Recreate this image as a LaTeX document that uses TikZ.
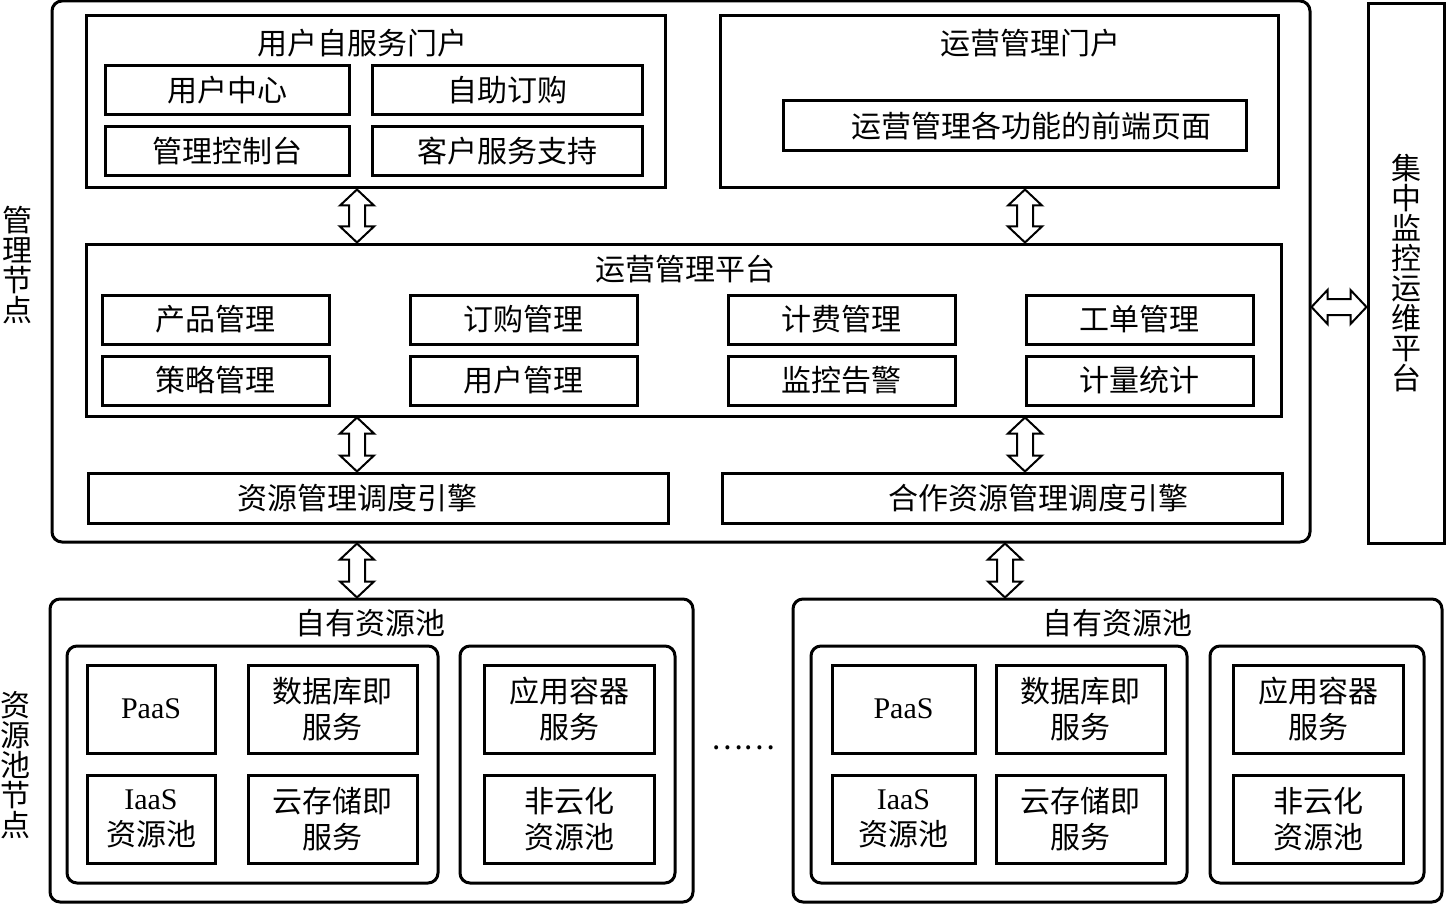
\documentclass[tikz,border=0pt]{standalone}
\usepackage{fontspec}
\setmainfont{Liberation Serif}
\newfontfamily\cjk{Noto Sans CJK SC}
\usetikzlibrary{calc}

% hollow two-headed block arrows (vertical / horizontal)
\newcommand{\vdarrow}[2]{\draw[darrow] (#1) -- ++(17,16) -- ++(-9,0) -- ($(#2)+(8,-16)$) -- ++(9,0) -- (#2) -- ++(-17,-16) -- ++(9,0) -- ($(#1)+(-8,16)$) -- ++(-9,0) -- cycle;}
\newcommand{\hdarrow}[2]{\draw[darrow] (#1) -- ++(16,-17) -- ++(0,9) -- ($(#2)+(-16,-8)$) -- ++(0,-9) -- (#2) -- ++(-16,17) -- ++(0,-9) -- ($(#1)+(16,8)$) -- ++(0,9) -- cycle;}

\begin{document}
\begin{tikzpicture}[x=0.5pt,y=-0.5pt]

\tikzset{line/.style={draw,line width=1.5pt}}
\tikzset{txt/.style={inner sep=0pt,align=center,font=\cjk\fontsize{15}{18}\selectfont}}
\tikzset{box/.style={line,txt,rectangle}}
\tikzset{group/.style={box,rounded corners=5pt}}
\tikzset{vtxt/.style={txt,font=\cjk\fontsize{15}{15}\selectfont}}
\tikzset{darrow/.style={draw,line width=1pt,fill=white,line join=miter}}
\tikzset{wh/.style 2 args={minimum width=#1,minimum height=#2}}

\useasboundingbox (0,0) rectangle (1447,904);

% management node
\node[vtxt] (mgmtlabel) at (18,265) {管\\理\\节\\点};
\node[group,wh={629pt}{270.5pt}] (mgmt) at (681,271.5) {};

\node[box,wh={289.5pt}{86pt}] (userportal) at (375.5,102) {};
\node[txt] (userportaltitle) at (362,43) {用户自服务门户};
\node[box,wh={122pt}{24.5pt}] (usercenter) at (227,90.5) {用户中心};
\node[box,wh={135pt}{24.5pt}] (selforder) at (507,90.5) {自助订购};
\node[box,wh={122pt}{24.5pt}] (console) at (227,151.5) {管理控制台};
\node[box,wh={135pt}{24.5pt}] (support) at (507,151.5) {客户服务支持};

\node[box,wh={279pt}{86pt}] (opsportal) at (999,102) {};
\node[txt] (opsportaltitle) at (1030,43) {运营管理门户};
\node[box,wh={231.5pt}{25pt}] (frontend) at (1014.5,126) {};
\node[txt] (frontendtext) at (1031,126) {运营管理各功能的前端页面};

\node[box,wh={597.5pt}{86pt}] (platform) at (683.5,330) {};
\node[txt] (platformtitle) at (685,269) {运营管理平台};
\node[box,wh={113.5pt}{24.5pt}] (product) at (215.5,319.5) {产品管理};
\node[box,wh={113.5pt}{24.5pt}] (ordering) at (523.5,319.5) {订购管理};
\node[box,wh={113.5pt}{24.5pt}] (billing) at (841.5,319.5) {计费管理};
\node[box,wh={113.5pt}{24.5pt}] (ticket) at (1139.5,319.5) {工单管理};
\node[box,wh={113.5pt}{24.5pt}] (policy) at (215.5,380.5) {策略管理};
\node[box,wh={113.5pt}{24.5pt}] (usermgmt) at (523.5,380.5) {用户管理};
\node[box,wh={113.5pt}{24.5pt}] (alarm) at (841.5,380.5) {监控告警};
\node[box,wh={113.5pt}{24.5pt}] (metering) at (1139.5,380.5) {计量统计};

\node[box,wh={290pt}{25pt}] (engine) at (378,498) {};
\node[txt] (enginetext) at (357,498) {资源管理调度引擎};
\node[box,wh={280pt}{25pt}] (partner) at (1002,498) {};
\node[txt] (partnertext) at (1038,498) {合作资源管理调度引擎};

% monitoring platform
\node[box,wh={38pt}{269.5pt},font=\cjk\fontsize{15}{15}\selectfont] (monitor) at (1406,273.5) {集\\中\\监\\控\\运\\维\\平\\台};

% resource pool nodes
\node[vtxt] (poollabel) at (15,765) {资\\源\\池\\节\\点};

\node[group,wh={321.5pt}{151.5pt}] (pool1) at (371.5,750.5) {};
\node[txt] (pool1title) at (370,623) {自有资源池};
\node[group,wh={185.5pt}{118.5pt}] (cloud1) at (252.5,764.5) {};
\node[group,wh={107.5pt}{118.5pt}] (other1) at (567.5,764.5) {};
\node[box,wh={64pt}{44pt}] (paas1) at (151,709) {\rmfamily PaaS};
\node[box,wh={84.5pt}{44pt}] (db1) at (332.5,709) {数据库即\\服务};
\node[box,wh={64pt}{44pt}] (iaas1) at (151,819) {{\rmfamily IaaS}\\资源池};
\node[box,wh={84.5pt}{44pt}] (storage1) at (332.5,819) {云存储即\\服务};
\node[box,wh={85pt}{44pt}] (app1) at (569,709) {应用容器\\服务};
\node[box,wh={85pt}{44pt}] (noncloud1) at (569,819) {非云化\\资源池};

\node[txt] (dots) at (743,748) {……};

\node[group,wh={324.5pt}{151.5pt}] (pool2) at (1117.5,750.5) {};
\node[txt] (pool2title) at (1117,623) {自有资源池};
\node[group,wh={188pt}{118.5pt}] (cloud2) at (999,764.5) {};
\node[group,wh={107pt}{118.5pt}] (other2) at (1317,764.5) {};
\node[box,wh={71.5pt}{44pt}] (paas2) at (903.5,709) {\rmfamily PaaS};
\node[box,wh={84.5pt}{44pt}] (db2) at (1080.5,709) {数据库即\\服务};
\node[box,wh={71.5pt}{44pt}] (iaas2) at (903.5,819) {{\rmfamily IaaS}\\资源池};
\node[box,wh={84.5pt}{44pt}] (storage2) at (1080.5,819) {云存储即\\服务};
\node[box,wh={85pt}{44pt}] (app2) at (1318,709) {应用容器\\服务};
\node[box,wh={85pt}{44pt}] (noncloud2) at (1318,819) {非云化\\资源池};

% arrows
\coordinate (lx) at (357,0);
\coordinate (rx) at (1025,0);
\coordinate (bx) at (1005,0);
\coordinate (hy) at (0,307);

\vdarrow{userportal.south -| lx}{platform.north -| lx}
\vdarrow{opsportal.south -| rx}{platform.north -| rx}
\vdarrow{platform.south -| lx}{engine.north -| lx}
\vdarrow{platform.south -| rx}{partner.north -| rx}
\vdarrow{mgmt.south -| lx}{pool1.north -| lx}
\vdarrow{mgmt.south -| bx}{pool2.north -| bx}
\hdarrow{mgmt.east |- hy}{monitor.west |- hy}

\end{tikzpicture}
\end{document}
